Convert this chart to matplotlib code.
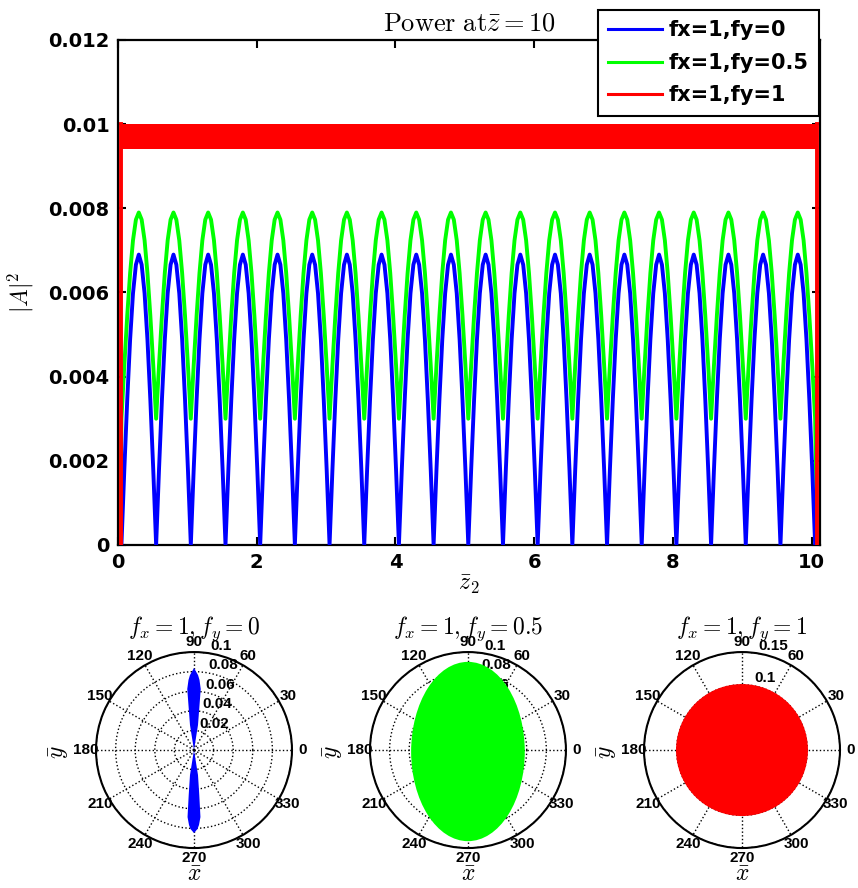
import numpy as np
import matplotlib.pyplot as plt
from matplotlib.lines import Line2D
from matplotlib.patches import Ellipse
from matplotlib.transforms import offset_copy

plt.rcParams['mathtext.fontset'] = 'cm'
plt.rcParams['font.family'] = ['DejaVu Sans']

# ---- top panel data ----
z_troughs = [0.05, 0.55, 1.05, 1.55, 2.05, 2.55, 3.05, 3.55, 4.05, 4.55, 5.05,
             5.55, 6.05, 6.55, 7.05, 7.55, 8.05, 8.55, 9.05, 9.55, 10.05]
arch_frac = [0.0, 0.083, 0.167, 0.25, 0.333, 0.417, 0.5,
             0.583, 0.667, 0.75, 0.833, 0.917, 1.0]
blue_arch = [0.0, 0.00179, 0.00345, 0.00488, 0.00598, 0.00666, 0.0069,
             0.00666, 0.00598, 0.00488, 0.00345, 0.00179, 0.0]
green_arch = [0.0030, 0.00427, 0.00545, 0.00646, 0.00724, 0.00773, 0.0079,
              0.00773, 0.00724, 0.00646, 0.00545, 0.00427, 0.0030]
red_band = [0.0094, 0.0100]   # low / high of the fast ripple
red_span = [0.045, 10.07]     # where the red curve switches on / off

legend_labels = ['fx=1,fy=0', 'fx=1,fy=0.5', 'fx=1,fy=1']
yticks = [0, 0.002, 0.004, 0.006, 0.008, 0.01, 0.012]
ytick_labels = ['0', '0.002', '0.004', '0.006', '0.008', '0.01', '0.012']
xticks = [0, 2, 4, 6, 8, 10]

# ---- polar panel data ----
theta_labels = ['0', '30', '60', '90', '120', '150', '180', '210', '240', '270', '300', '330']

# blue: two thin lobes along 90 / 270 (theta in degrees, r)
blue_theta = [90, 80.8, 80.9, 83.0, 83.7, 85.5, 86.9, 90, 93.1, 94.5, 96.3, 97.0, 99.1, 99.2, 90,
              279.2, 279.1, 276.7, 275.5, 273.8, 272.5, 270, 267.5, 266.2, 264.5, 263.3, 260.9, 260.8, 270]
blue_r = [0.0, 0.0083, 0.0258, 0.0463, 0.0627, 0.0717, 0.0766, 0.0837, 0.0766, 0.0717, 0.0627, 0.0463, 0.0258, 0.0083, 0.0,
          0.0083, 0.0258, 0.0462, 0.0687, 0.0767, 0.0807, 0.0847, 0.0807, 0.0767, 0.0687, 0.0462, 0.0258, 0.0083, 0.0]

# green: ellipse (half-width along 0, half-height along 90, vertical shift)
green_half_w = 0.058
green_half_h = 0.0915
green_shift = -0.0015

# red: circle radius
red_radius = 0.101

BLUE, GREEN, RED = '#0000ff', '#00ff00', '#ff0000'


def build_curve(arch, start, end):
    xs, ys = [start[0]], [start[1]]
    for a, b in zip(z_troughs[:-1], z_troughs[1:]):
        for f, v in zip(arch_frac, arch):
            xs.append(a + f * (b - a))
            ys.append(v)
    xs.append(end[0])
    ys.append(end[1])
    return xs, ys


fig = plt.figure(figsize=(8.58, 8.88), dpi=100)

# ---------------- top panel ----------------
ax = fig.add_axes([0.1375, 0.3863, 0.8182, 0.5687])
gx, gy = build_curve(green_arch, (0.03, 0.0), (10.08, 0.0))
bx, by = build_curve(blue_arch, (0.05, 0.0), (10.05, 0.0))
ax.plot(gx, gy, color=GREEN, lw=2.8, zorder=2)
ax.plot(bx, by, color=BLUE, lw=2.8, zorder=3)
ax.fill_between(red_span, red_band[0], red_band[1], color=RED, lw=0, zorder=4)
ax.plot([red_span[0], red_span[0]], [0, red_band[1]], color=RED, lw=2.8, zorder=4)
ax.plot([red_span[1], red_span[1]], [red_band[1], 0], color=RED, lw=2.8, zorder=4)

ax.set_xlim(0, 10.12)
ax.set_ylim(0, 0.012)
ax.set_xticks(xticks)
ax.set_xticklabels([str(t) for t in xticks], fontsize=14, fontweight='bold')
ax.set_yticks(yticks)
ax.set_yticklabels(ytick_labels, fontsize=14, fontweight='bold')
ax.tick_params(direction='in', length=6, width=1.5, top=True, right=True, pad=6)
for s in ax.spines.values():
    s.set_linewidth(1.6)
ax.set_title(r'$\mathrm{Power\ at}\bar{z}=10$', fontsize=19, pad=7)
ax.set_ylabel(r'$|A|^2$', fontsize=17, labelpad=9)
ax.set_xlabel(r'$\bar{z}_2$', fontsize=17, labelpad=0)

handles = [Line2D([], [], color=c, lw=2.2) for c in (BLUE, GREEN, RED)]
leg = fig.legend(handles, legend_labels, loc='upper right',
                 bbox_to_anchor=(819 / 858, 1 - 10 / 888), borderaxespad=0,
                 prop={'weight': 'bold', 'size': 15}, fancybox=False,
                 framealpha=1, edgecolor='black', handlelength=2.6,
                 labelspacing=0.6, borderpad=0.5, handletextpad=0.3)
leg.get_frame().set_linewidth(1.5)
leg.set_zorder(10)

# ---------------- polar panels ----------------
narrow = ['Liberation Sans Narrow', 'Liberation Sans', 'DejaVu Sans']
panels = [
    (0.1119, BLUE, 0.1, [0.02, 0.04, 0.06, 0.08, 0.1],
     ['0.02', '0.04', '0.06', '0.08', '0.1'], r'$f_x=1, f_y=0$'),
    (0.4312, GREEN, 0.1, [0.02, 0.04, 0.06, 0.08, 0.1],
     ['0.02', '0.04', '0.06', '0.08', '0.1'], r'$f_x=1, f_y=0.5$'),
    (0.7506, RED, 0.15, [0.05, 0.1, 0.15],
     ['0.05', '0.1', '0.15'], r'$f_x=1, f_y=1$'),
]

for i, (left, col, rmax, rticks, rlabels, title) in enumerate(panels):
    pax = fig.add_axes([left, 0.045, 0.2284, 0.2207], projection='polar')
    pax.set_ylim(0, rmax)
    # cartesian frame inside the polar axes, in r units
    cart = pax.transProjectionAffine + pax.transWedge + pax.transAxes
    if i == 0:
        pax.fill(np.radians(blue_theta), blue_r, color=col, lw=0, zorder=3)
    elif i == 1:
        pax.add_patch(Ellipse((0, green_shift), 2 * green_half_w, 2 * green_half_h,
                              transform=cart, color=col, lw=0, zorder=3))
    else:
        pax.add_patch(Ellipse((0, 0), 2 * red_radius, 2 * red_radius,
                              transform=cart, color=col, lw=0, zorder=3))
    pax.set_ylim(0, rmax)
    pax.set_yticks(rticks)
    pax.set_yticklabels([])
    pax.set_xticks(np.radians(np.arange(0, 360, 30)))
    pax.set_xticklabels(theta_labels, fontweight='bold', fontsize=11, family=narrow)
    pax.tick_params(axis='x', pad=0.5, length=0)
    pax.grid(True, linestyle=':', color='black', lw=1.0)
    pax.spines['polar'].set_linewidth(1.5)
    off = offset_copy(pax.transData, fig=fig, x=3, y=0, units='dots')
    for rt, lab in zip(rticks, rlabels):
        pax.text(np.radians(82), rt, lab, transform=off, ha='left', va='bottom',
                 fontsize=11, fontweight='bold', family=narrow, zorder=2)
    pax.text(0.5, 1.09, title, transform=pax.transAxes, ha='center',
             va='baseline', fontsize=17)
    pax.text(-0.19, 0.49, r'$\bar{y}$', transform=pax.transAxes, ha='center',
             va='center', rotation=90, fontsize=17)
    pax.text(0.5, -0.135, r'$\bar{x}$', transform=pax.transAxes, ha='center',
             va='center', fontsize=17)

fig.savefig('out.png', dpi=100)
